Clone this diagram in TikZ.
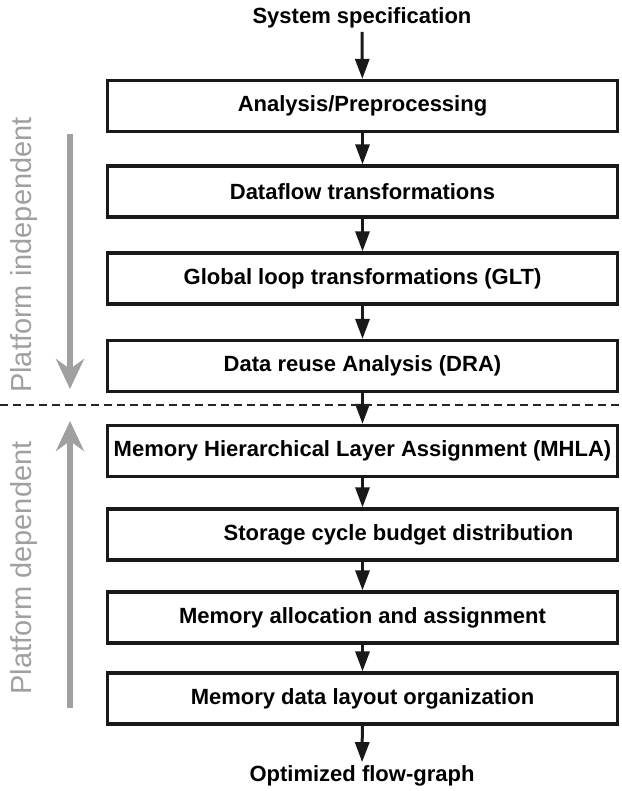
\documentclass[tikz,border=0pt]{standalone}
\usepackage{fontspec}
\setmainfont{Liberation Sans}
\usetikzlibrary{arrows.meta}
\definecolor{hellgrau}{HTML}{A0A0A0}

\begin{document}
\begin{tikzpicture}[x=1pt,y=-1pt,
	schritt/.style={draw=black!90,line width=3.2pt,minimum width=510pt,minimum height=51pt,inner sep=0pt,font=\fontsize{22}{25}\selectfont\bfseries},
	titel/.style={font=\fontsize{22}{25}\selectfont\bfseries},
	pfeil/.style={line width=3pt,draw=black!90,-{Triangle[length=20pt,width=14pt]}},
	plattform/.style={line width=6.5pt,draw=hellgrau,-{Stealth[length=30pt,width=28pt,inset=10pt]}},
	seite/.style={rotate=90,text=hellgrau,inner sep=0pt,font=\fontsize{29}{32}\selectfont}]

	\useasboundingbox (0,0) rectangle (621,791);

	% Eingang und Ausgang
	\node[titel] (spec) at (362,18) {System specification};
	\node[titel] (graph) at (362,776) {Optimized flow-graph};

	% Schritte
	\node[schritt] (ana)  at (362.5,106) {Analysis/Preprocessing};
	\node[schritt] (df)   at (362.5,191.5) {Dataflow transformations};
	\node[schritt] (glt)  at (362.5,278.5) {Global loop transformations (GLT)};
	\node[schritt] (dra)  at (362.5,366) {Data reuse Analysis (DRA)};
	\node[schritt] (mhla) at (362.5,451) {Memory Hierarchical Layer Assignment (MHLA)};
	\node[schritt] (scbd) at (362.5,534.5) {\hspace*{72pt}Storage cycle budget distribution};
	\node[schritt] (maa)  at (362.5,617.5) {Memory allocation and assignment};
	\node[schritt] (mdl)  at (362.5,698.5) {Memory data layout organization};

	% Pfeile
	\draw[pfeil] (spec) -- (ana);
	\draw[pfeil] (ana) -- (df);
	\draw[pfeil] (df) -- (glt);
	\draw[pfeil] (glt) -- (dra);
	\draw[pfeil] (dra) -- (mhla);
	\draw[pfeil] (mhla) -- (scbd);
	\draw[pfeil] (scbd) -- (maa);
	\draw[pfeil] (maa) -- (mdl);
	\draw[pfeil] (mdl) -- (graph);

	% Grenze
	\coordinate (gl) at (0,405);
	\coordinate (gr) at (621,405);
	\draw[line width=2pt,black!85,dash pattern=on 8pt off 5pt] (gl) -- (gr);

	% Plattform
	\coordinate (ia) at (70,134);
	\coordinate (ib) at (70,389);
	\coordinate (da) at (70,708);
	\coordinate (db) at (70,421);
	\draw[plattform] (ia) -- (ib);
	\draw[plattform] (da) -- (db);
	\node[seite] (indep) at (24,255) {Platform independent};
	\node[seite] (dep) at (24,568) {Platform dependent};

\end{tikzpicture}
\end{document}
